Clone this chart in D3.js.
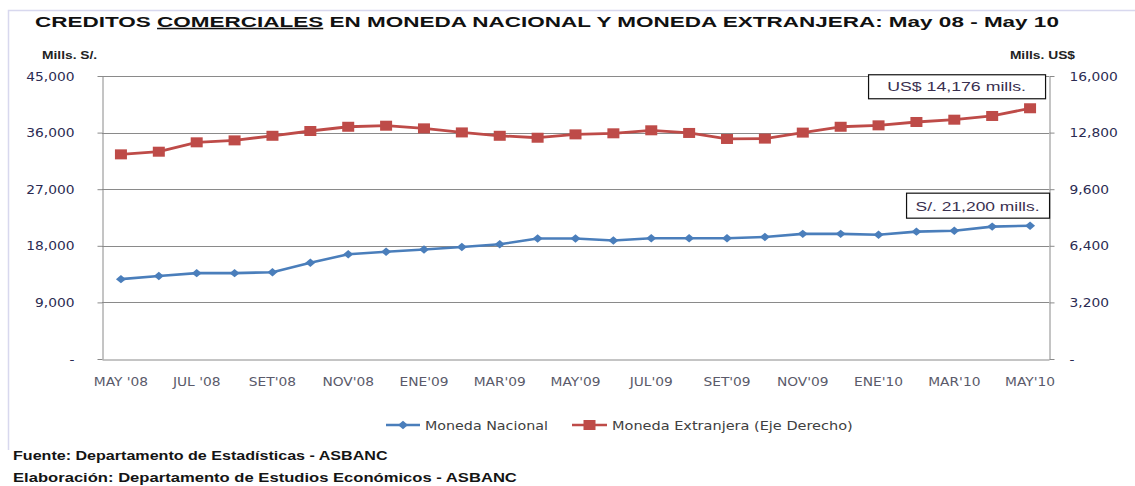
<!DOCTYPE html>
<html>
<head>
<meta charset="utf-8">
<script src="https://cdn.jsdelivr.net/npm/d3@7"></script>
<style>
  html, body { margin: 0; padding: 0; background: #fff; }
  svg { display: block; }
</style>
</head>
<body>
<svg id="chart" width="1135" height="486"></svg>
<script>
// ---- DATA ----
const months = ["MAY '08","JUN '08","JUL '08","AGO '08","SET'08","OCT'08","NOV'08","DIC'08",
  "ENE'09","FEB'09","MAR'09","ABR'09","MAY'09","JUN'09","JUL'09","AGO'09","SET'09","OCT'09",
  "NOV'09","DIC'09","ENE'10","FEB'10","MAR'10","ABR'10","MAY'10"];
const monedaNacional = [12700,13200,13650,13650,13800,15300,16650,17050,17400,17800,18250,19150,
  19150,18850,19200,19200,19200,19400,19900,19900,19750,20250,20400,21050,21200];
const monedaExtranjera = [11570,11720,12250,12360,12620,12890,13130,13190,13040,12810,12620,12510,
  12700,12760,12930,12780,12440,12460,12800,13130,13210,13400,13530,13740,14176];
const leftTicks = [0,9000,18000,27000,36000,45000];
const rightTicks = [0,3200,6400,9600,12800,16000];
const seriesNames = ["Moneda Nacional","Moneda Extranjera (Eje Derecho)"];
const title = ["CREDITOS ","COMERCIALES"," EN MONEDA NACIONAL Y MONEDA EXTRANJERA: May 08 - May 10"];
const leftUnit = "Mills. S/.";
const rightUnit = "Mills. US$";
const noteNacional = "S/. 21,200 mills.";
const noteExtranjera = "US$ 14,176 mills.";
const footer = ["Fuente: Departamento de Estadísticas - ASBANC",
  "Elaboración: Departamento de Estudios Económicos - ASBANC"];

// ---- LAYOUT ----
const svg = d3.select("#chart");
const L = 102, R = 1049, T = 76, B = 359;
const SX = 1.2; // horizontal stretch of the reference's text
const blue = "#4A7EBB", red = "#BE4B48", grid = "#8A8A8A";

const x = d3.scaleBand().domain(months).range([L, R]);
const cx = d => x(d) + x.bandwidth() / 2;
const yL = d3.scaleLinear().domain([0, 45000]).range([B, T]);
const yR = d3.scaleLinear().domain([0, 16000]).range([B, T]);
const fmt = v => v === 0 ? "-" : d3.format(",")(v);

function fit(sel, width) {
  sel.each(function() {
    const w = this.getComputedTextLength();
    const s = width / w;
    const t = d3.select(this);
    const tx = +t.attr("data-x"), ty = +t.attr("data-y");
    t.attr("transform", `translate(${tx},${ty}) scale(${s},1)`);
  });
}
function placeText(parent, tx, ty) {
  return parent.append("text").attr("data-x", tx).attr("data-y", ty)
    .attr("transform", `translate(${tx},${ty}) scale(${SX},1)`);
}

// frame
svg.append("path").attr("d", "M1135,10.5H8.5V450").attr("fill", "none")
  .attr("stroke", "#D8D8EE").attr("stroke-width", 1.5);

// title
const tt = svg.append("text").attr("data-x", 35).attr("data-y", 27)
  .attr("font-family", "Liberation Sans, Arial, sans-serif").attr("font-weight", "bold")
  .attr("font-size", 15).attr("fill", "#111");
tt.append("tspan").text(title[0]);
tt.append("tspan").attr("text-decoration", "underline").text(title[1]);
tt.append("tspan").text(title[2]);
fit(tt, 1025);

// unit labels
[[leftUnit, 42, 59, "start"], [rightUnit, 1075, 59, "end"]].forEach(([t, tx, ty, a]) => {
  placeText(svg, tx, ty).attr("text-anchor", a)
    .attr("font-family", "Liberation Sans, Arial, sans-serif").attr("font-weight", "bold")
    .attr("font-size", 11.5).attr("fill", "#222").text(t);
});

// gridlines
svg.append("g").selectAll("line").data(leftTicks.filter(d => d > 0)).join("line")
  .attr("x1", L).attr("x2", R).attr("y1", d => Math.round(yL(d)) + 0.5).attr("y2", d => Math.round(yL(d)) + 0.5)
  .attr("stroke", grid).attr("stroke-width", 1);

// left axis
const gl = svg.append("g").attr("transform", `translate(${L + 0.5},0)`)
  .call(d3.axisLeft(yL).tickValues(leftTicks).tickFormat(fmt).tickSize(5).tickSizeOuter(0));
// right axis
const gr = svg.append("g").attr("transform", `translate(${R + 0.5},0)`)
  .call(d3.axisRight(yR).tickValues(rightTicks).tickFormat(fmt).tickSize(5).tickSizeOuter(0));
[gl, gr].forEach(g => {
  g.select(".domain").attr("stroke", grid);
  g.selectAll(".tick line").attr("stroke", grid);
  g.selectAll(".tick text").attr("font-family", "DejaVu Sans, Verdana, sans-serif")
    .attr("font-size", 11.5).attr("fill", "#2B2B52").attr("dy", "0.36em");
});
gl.selectAll(".tick text").attr("x", 0).attr("text-anchor", "end")
  .attr("transform", `translate(-28,0) scale(${SX},1)`);
gr.selectAll(".tick text").attr("x", 0).attr("text-anchor", "start")
  .attr("transform", `translate(20,0) scale(${SX},1)`);

// bottom axis
const gb = svg.append("g").attr("transform", `translate(0,${B + 0.5})`)
  .call(d3.axisBottom(x).tickValues(months.filter((d, i) => i % 2 === 0)).tickSize(0).tickSizeOuter(0));
gb.select(".domain").attr("stroke", grid);
gb.selectAll(".tick text").attr("font-family", "DejaVu Sans, Verdana, sans-serif")
  .attr("font-size", 11.5).attr("fill", "#5A5A6A").attr("y", 27).attr("dy", 0)
  .attr("transform", `scale(${SX},1)`);

// lines
const lineN = d3.line().x((d, i) => cx(months[i])).y(d => yL(d));
const lineE = d3.line().x((d, i) => cx(months[i])).y(d => yR(d));
svg.append("path").datum(monedaNacional).attr("d", lineN).attr("fill", "none")
  .attr("stroke", blue).attr("stroke-width", 2.6).attr("stroke-linejoin", "round");
svg.append("path").datum(monedaExtranjera).attr("d", lineE).attr("fill", "none")
  .attr("stroke", red).attr("stroke-width", 2.8).attr("stroke-linejoin", "round");

// markers
const diamond = "M0,-4.2L5,0L0,4.2L-5,0Z";
svg.append("g").selectAll("path").data(monedaNacional).join("path")
  .attr("d", diamond).attr("fill", blue)
  .attr("transform", (d, i) => `translate(${cx(months[i])},${yL(d)})`);
svg.append("g").selectAll("rect").data(monedaExtranjera).join("rect")
  .attr("x", (d, i) => cx(months[i]) - 6).attr("y", d => yR(d) - 5)
  .attr("width", 12).attr("height", 10).attr("fill", red);

// annotations (anchored to the last point of each series)
function note(text, px, py, w, h, right, gap, tw) {
  const bx = px + right - w, by = py - gap - h;
  svg.append("rect").attr("x", bx + 0.5).attr("y", by + 0.5).attr("width", w).attr("height", h)
    .attr("fill", "#fff").attr("stroke", "#111").attr("stroke-width", 1.2);
  const t = svg.append("text").attr("data-x", bx + w / 2).attr("data-y", by + h - 7)
    .attr("text-anchor", "middle").attr("font-family", "Liberation Sans, Arial, sans-serif")
    .attr("font-size", 12.5).attr("fill", "#3A3050").text(text);
  fit(t, tw);
}
const last = months.length - 1;
note(noteExtranjera, cx(months[last]), yR(monedaExtranjera[last]), 177, 24, 15, 10, 139);
note(noteNacional, cx(months[last]), yL(monedaNacional[last]), 143, 25, 19, 8, 124);

// legend
const lg = svg.append("g");
const items = [
  {name: seriesNames[0], color: blue, x0: 386, x1: 420, tx: 425, tw: 123, shape: "d"},
  {name: seriesNames[1], color: red, x0: 572, x1: 607, tx: 612, tw: 241, shape: "s"}
];
items.forEach(it => {
  lg.append("line").attr("x1", it.x0).attr("x2", it.x1).attr("y1", 425).attr("y2", 425)
    .attr("stroke", it.color).attr("stroke-width", 2.6);
  const mx = (it.x0 + it.x1) / 2;
  if (it.shape === "d") lg.append("path").attr("d", diamond).attr("fill", it.color)
    .attr("transform", `translate(${mx},425)`);
  else lg.append("rect").attr("x", mx - 6).attr("y", 420).attr("width", 12).attr("height", 10).attr("fill", it.color);
  const t = lg.append("text").attr("data-x", it.tx).attr("data-y", 429.5)
    .attr("font-family", "DejaVu Sans, Verdana, sans-serif").attr("font-size", 11.5)
    .attr("fill", "#404040").text(it.name);
  fit(t, it.tw);
});

// footer
[[footer[0], 460, 375], [footer[1], 481.5, 504]].forEach(([t, ty, w]) => {
  const e = svg.append("text").attr("data-x", 13).attr("data-y", ty)
    .attr("font-family", "Liberation Sans, Arial, sans-serif").attr("font-weight", "bold")
    .attr("font-size", 13).attr("fill", "#141414").text(t);
  fit(e, w);
});
</script>
</body>
</html>
